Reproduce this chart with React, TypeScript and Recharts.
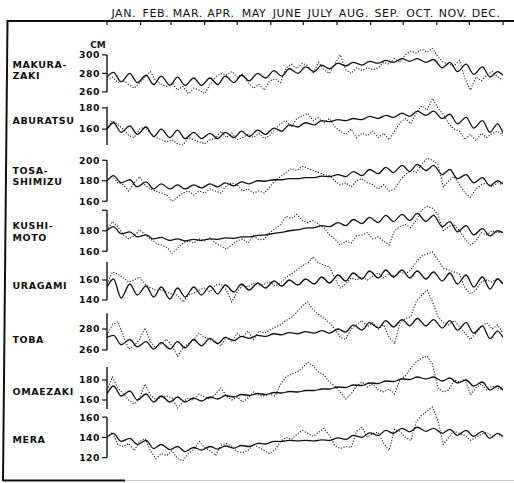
import React from 'react';
import { LineChart, Line, XAxis, YAxis, ReferenceLine } from 'recharts';

const MONTHS = ['JAN.', 'FEB.', 'MAR.', 'APR.', 'MAY', 'JUNE', 'JULY', 'AUG.', 'SEP.', 'OCT.', 'NOV.', 'DEC.'];
const MONTH_START_DAYS = [0, 31, 59, 90, 120, 151, 181, 212, 243, 273, 304, 334, 365];
const MONTH_MID_DAYS = [15.5, 45, 74.5, 105, 135.5, 166, 196.5, 227.5, 258, 288.5, 319, 349.5];

// daily-mean observations, read every 5 days
const OBS_DAYS = [0, 5, 10, 15, 20, 25, 30, 35, 40, 45, 50, 55, 60, 65, 70, 75, 80, 85, 90, 95, 100, 105, 110, 115, 120, 125, 130, 135, 140, 145, 150, 155, 160, 165, 170, 175, 180, 185, 190, 195, 200, 205, 210, 215, 220, 225, 230, 235, 240, 245, 250, 255, 260, 265, 270, 275, 280, 285, 290, 295, 300, 305, 310, 315, 320, 325, 330, 335, 340, 345, 350, 355, 360, 365];
// smooth (tidal) curve, read at its crests and troughs
const TIDE_DAYS = [0, 6, 13, 21, 28, 36, 43, 50, 58, 65, 72, 80, 87, 95, 102, 109, 117, 124, 131, 139, 146, 154, 161, 168, 176, 183, 191, 198, 205, 213, 220, 227, 235, 242, 250, 257, 264, 272, 279, 286, 294, 301, 309, 316, 323, 331, 338, 346, 353, 360, 365];

const MAKURAZAKI_OBS = [273, 276, 270, 272, 268, 264, 270, 276, 282, 272, 268, 266, 270, 262, 266, 258, 264, 262, 258, 268, 276, 280, 278, 282, 276, 279, 270, 264, 268, 262, 272, 274, 270, 286, 290, 285, 291, 288, 280, 292, 284, 280, 290, 300, 284, 280, 286, 283, 286, 284, 286, 292, 290, 296, 292, 300, 304, 302, 306, 303, 307, 298, 292, 290, 288, 294, 274, 262, 276, 272, 278, 282, 276, 273];
const MAKURAZAKI_TIDE = [276, 281, 271, 280, 270, 278, 268, 277, 267, 276, 267, 275, 267, 275, 268, 277, 270, 278, 272, 280, 275, 283, 277, 285, 280, 287, 282, 289, 285, 291, 288, 292, 289, 293, 291, 294, 292, 296, 293, 296, 292, 295, 286, 292, 282, 290, 279, 287, 276, 282, 278];

const ABURATSU_OBS = [160, 168, 164, 160, 154, 152, 160, 162, 156, 152, 150, 148, 150, 146, 145, 152, 150, 148, 146, 150, 151, 158, 152, 156, 150, 152, 155, 152, 156, 151, 154, 160, 165, 168, 162, 170, 172, 175, 168, 171, 166, 170, 162, 158, 155, 160, 152, 156, 154, 158, 152, 156, 150, 158, 166, 170, 165, 175, 182, 178, 189, 180, 174, 165, 160, 158, 150, 155, 149, 156, 152, 156, 158, 154];
const ABURATSU_TIDE = [160, 166, 157, 163, 155, 162, 153, 160, 152, 159, 151, 157, 151, 156, 151, 157, 152, 158, 153, 159, 155, 161, 158, 164, 162, 166, 164, 168, 167, 169, 168, 170, 169, 172, 170, 173, 171, 175, 172, 177, 173, 177, 170, 174, 165, 171, 161, 168, 157, 165, 156];

const TOSA_SHIMIZU_OBS = [180, 184, 178, 176, 170, 178, 184, 176, 172, 170, 168, 166, 160, 164, 168, 170, 166, 170, 168, 172, 170, 168, 175, 178, 176, 170, 172, 168, 170, 168, 174, 180, 184, 188, 192, 190, 194, 192, 190, 188, 186, 185, 180, 176, 178, 174, 180, 182, 178, 176, 172, 176, 170, 172, 180, 186, 190, 188, 196, 202, 200, 196, 174, 180, 184, 176, 168, 164, 172, 176, 178, 174, 178, 176];
const TOSA_SHIMIZU_TIDE = [180, 185, 178, 181, 174, 179, 172, 177, 172, 176, 172, 176, 173, 177, 174, 178, 175, 179, 177, 180, 179.5, 181, 181, 182, 182, 183, 183, 184.5, 184, 186, 184, 189, 185, 191, 187, 193, 188, 195, 189, 196, 190, 195, 186, 191, 182, 186, 178, 183, 175, 180, 177];

const KUSHIMOTO_OBS = [180, 189, 184, 176, 172, 175, 181, 176, 172, 168, 166, 164, 158, 163, 168, 170, 168, 172, 170, 173, 168, 165, 162, 166, 170, 172, 168, 175, 171, 172, 178, 182, 186, 194, 192, 196, 190, 188, 190, 186, 183, 176, 172, 166, 170, 168, 175, 176, 178, 172, 174, 170, 166, 180, 184, 186, 183, 190, 200, 204, 202, 196, 180, 184, 186, 180, 172, 166, 170, 178, 176, 180, 178, 179];
const KUSHIMOTO_TIDE = [180, 184, 177, 179, 174, 176, 172, 173.5, 170.5, 172, 170, 171.5, 170.5, 172, 171.5, 173, 172.5, 174, 174, 175.5, 176, 177.5, 178.5, 180, 181, 182.5, 183, 185, 184, 188, 185, 191, 187, 193, 188, 195, 189, 196, 190, 197, 189, 195, 184, 189, 179, 185, 176, 182, 175, 180, 178];

const URAGAMI_OBS = [156, 168, 166, 162, 158, 160, 163, 156, 152, 150, 150, 148, 146, 145, 138, 145, 147, 150, 152, 148, 155, 156, 150, 138, 148, 155, 153, 157, 155, 156, 158, 154, 157, 163, 166, 170, 174, 177, 183, 177, 175, 173, 162, 152, 156, 162, 160, 163, 160, 164, 167, 162, 166, 164, 168, 166, 170, 178, 184, 186, 188, 180, 172, 170, 168, 166, 152, 146, 150, 158, 160, 158, 162, 157];
const URAGAMI_TIDE = [153, 161, 142, 156, 145, 154, 143, 153, 141, 152, 143, 153, 145, 154, 146, 155, 148, 156, 150, 157, 152, 159, 154, 160, 155, 161, 156, 163, 157, 165, 159, 167, 161, 169, 162, 170, 163, 170, 162, 169, 161, 168, 159, 167, 156, 165, 153, 163, 151, 161, 156];

const TOBA_OBS = [274, 284, 287, 274, 261, 264, 270, 281, 268, 262, 266, 270, 264, 254, 262, 266, 270, 276, 272, 270, 268, 264, 272, 268, 276, 272, 278, 270, 278, 276, 279, 282, 284, 288, 291, 296, 302, 306, 298, 294, 290, 286, 280, 272, 270, 280, 284, 288, 282, 286, 280, 284, 272, 266, 286, 290, 292, 306, 312, 317, 306, 292, 286, 284, 288, 282, 276, 270, 276, 282, 286, 280, 284, 276];
const TOBA_TIDE = [272, 274, 265, 270, 263, 268, 261, 267, 261, 268, 262, 270, 264, 271, 266, 272, 269, 273, 271, 274, 273, 275.5, 274.5, 276.5, 275.5, 277.5, 276, 278.5, 276, 280, 277, 284, 279, 286, 281, 288, 282, 289, 283, 290, 283, 289, 281, 288, 279, 286, 276, 283, 271, 278, 272];

const OMAEZAKI_OBS = [170, 183, 172, 166, 160, 156, 162, 176, 165, 160, 163, 164, 162, 152, 158, 162, 160, 166, 163, 161, 166, 172, 164, 160, 163, 158, 162, 168, 165, 164, 166, 164, 176, 183, 186, 188, 192, 198, 194, 188, 185, 178, 174, 168, 161, 166, 174, 178, 173, 176, 170, 168, 171, 166, 180, 184, 192, 198, 202, 204, 196, 172, 168, 170, 180, 178, 181, 165, 172, 176, 170, 174, 172, 169];
const OMAEZAKI_TIDE = [166, 174, 164, 169, 160, 166, 158, 164, 158, 163, 158, 162, 159, 163, 161, 164.5, 163, 165.5, 164.5, 166.5, 165.5, 167.5, 167, 168.5, 168, 169.5, 169.5, 171, 171, 173, 172.5, 175, 174.5, 177, 176.5, 179, 178.5, 181, 180.5, 183, 181, 183, 179, 182, 177, 180, 174, 178, 170, 174, 170];

const MERA_OBS = [140, 145, 133, 131, 134, 127, 136, 139, 127, 119, 124, 122, 127, 119, 117, 124, 128, 136, 130, 127, 122, 132, 134, 131, 126, 125, 127, 133, 130, 127, 124, 128, 136, 140, 138, 143, 147, 144, 141, 145, 149, 142, 132, 129, 131, 130, 146, 150, 140, 144, 145, 134, 127, 148, 146, 140, 137, 155, 162, 166, 170, 157, 133, 140, 146, 144, 142, 137, 140, 143, 145, 141, 144, 140];
const MERA_TIDE = [140, 144, 136, 139, 133, 137, 129, 133, 128, 131, 126, 130, 127.5, 131, 128.5, 131.5, 129.5, 132, 131, 134, 133.5, 136, 136, 137, 136.5, 137, 136.5, 137.5, 137, 139.5, 138, 142, 140, 144.5, 142, 147, 144, 149, 145.5, 150, 146, 149, 144, 148, 142, 147, 141, 146, 139, 144, 141];

const STATION_NAMES = [['MAKURA-', 'ZAKI'], ['ABURATSU'], ['TOSA-', 'SHIMIZU'], ['KUSHI-', 'MOTO'], ['URAGAMI'], ['TOBA'], ['OMAEZAKI'], ['MERA']];
const STATION_OBS = [MAKURAZAKI_OBS, ABURATSU_OBS, TOSA_SHIMIZU_OBS, KUSHIMOTO_OBS, URAGAMI_OBS, TOBA_OBS, OMAEZAKI_OBS, MERA_OBS];
const STATION_TIDE = [MAKURAZAKI_TIDE, ABURATSU_TIDE, TOSA_SHIMIZU_TIDE, KUSHIMOTO_TIDE, URAGAMI_TIDE, TOBA_TIDE, OMAEZAKI_TIDE, MERA_TIDE];
const STATION_TICKS = [[260, 280, 300], [160, 180], [160, 180, 200], [160, 180, 200], [140, 160], [260, 280], [160, 180], [120, 140, 160]];
const STATION_TICK_LABELS = [[260, 280, 300], [160, 180], [160, 180, 200], [160, 180], [140, 160], [260, 280], [160, 180], [120, 140, 160]];
const STATION_AXIS_SPAN = [[260, 300], [145, 181], [160, 200], [160, 200], [140, 178], [260, 295], [151, 193], [120, 160]];
const STATION_DOMAIN = [[250, 315], [140, 195], [155, 210], [155, 210], [135, 192], [250, 320], [148, 206], [114, 172]];

// layout: pixel row of an anchor value and pixels per cm, plus name baselines
const PANEL_LAYOUT = [
  { anchor: 300, anchorY: 55, ppc: 0.925, nameY: [67.5, 78.5] },
  { anchor: 180, anchorY: 107.5, ppc: 1.06, nameY: [123.5] },
  { anchor: 200, anchorY: 160, ppc: 1.025, nameY: [173.5, 185] },
  { anchor: 180, anchorY: 231, ppc: 1.025, nameY: [228.5, 240.5] },
  { anchor: 160, anchorY: 280, ppc: 1.0, nameY: [288.5] },
  { anchor: 280, anchorY: 329, ppc: 1.05, nameY: [343] },
  { anchor: 180, anchorY: 379.5, ppc: 1.0, nameY: [394.5] },
  { anchor: 140, anchorY: 437, ppc: 1.0125, nameY: [442.5] },
];

const FONT = '"DejaVu Sans", Verdana, sans-serif';
const INK = '#111';
const W = 514;
const H = 483;
const AXIS_X_WIDTH = 107;
const RIGHT_GAP = 11;

const toSeries = (days: number[], vals: number[]) => days.map((day, i) => ({ day, v: vals[i] }));
const MONTH_DATA = MONTH_MID_DAYS.map((day, i) => ({ day, label: MONTHS[i] }));

const makeTick = (labelled: number[]) => (props: any) => {
  const { x, y, payload } = props;
  if (!labelled.includes(payload.value)) return <g />;
  return (
    <text x={x} y={y} dy={3.4} textAnchor="end" fontSize={9.3} fontWeight="bold" fontFamily={FONT} fill={INK} letterSpacing={0.5}>
      {payload.value}
    </text>
  );
};

function StationPanel({ idx }: { idx: number }) {
  const lay = PANEL_LAYOUT[idx];
  const [lo, hi] = STATION_DOMAIN[idx];
  const top = lay.anchorY - (hi - lay.anchor) * lay.ppc;
  const height = (hi - lo) * lay.ppc;
  const obs = toSeries(OBS_DAYS, STATION_OBS[idx]);
  const tide = toSeries(TIDE_DAYS, STATION_TIDE[idx]);
  const span = STATION_AXIS_SPAN[idx];
  return (
    <div style={{ position: 'absolute', left: 0, top, width: W, height }}>
      <LineChart width={W} height={height} margin={{ top: 0, right: RIGHT_GAP, bottom: 0, left: 0 }} style={{ overflow: 'visible' }}>
        <XAxis type="number" dataKey="day" domain={[0, 365]} hide allowDataOverflow />
        <YAxis
          type="number"
          domain={[lo, hi]}
          ticks={STATION_TICKS[idx]}
          interval={0}
          width={AXIS_X_WIDTH}
          axisLine={false}
          tickLine={{ stroke: INK, strokeWidth: 1.2 }}
          tickSize={5}
          tickMargin={2}
          tick={makeTick(STATION_TICK_LABELS[idx])}
          allowDataOverflow
        />
        <ReferenceLine segment={[{ x: 0, y: span[0] }, { x: 0, y: span[1] }]} stroke={INK} strokeWidth={1.4} />
        <Line data={obs} dataKey="v" type="linear" stroke="#222" strokeWidth={1.1} strokeDasharray="1.2 1.6" dot={false} isAnimationActive={false} />
        <Line data={tide} dataKey="v" type="monotone" stroke={INK} strokeWidth={1.3} dot={false} isAnimationActive={false} />
      </LineChart>
    </div>
  );
}

export default function App() {
  return (
    <div style={{ position: 'absolute', left: 0, top: 0, width: W, height: H, background: '#fff', overflow: 'hidden' }}>
      <div style={{ position: 'absolute', left: 0, top: 0 }}>
        <LineChart width={W} height={25} data={MONTH_DATA} margin={{ top: 0, right: RIGHT_GAP, bottom: 0, left: AXIS_X_WIDTH }}>
          <XAxis
            xAxisId="m"
            dataKey="day"
            orientation="top"
            type="number"
            domain={[0, 365]}
            allowDataOverflow
            ticks={MONTH_MID_DAYS}
            interval={0}
            tickFormatter={(_v: number, i: number) => MONTHS[i]}
            height={21}
            axisLine={false}
            tickLine={false}
            tickSize={0}
            tickMargin={4}
            tick={{ fontSize: 11, fill: INK, fontFamily: FONT, letterSpacing: 0.6 }}
          />
          <YAxis hide domain={[0, 1]} allowDataOverflow />
          {MONTH_START_DAYS.map((d) => (
            <ReferenceLine key={d} xAxisId="m" x={d} stroke={INK} strokeWidth={1.2} />
          ))}
        </LineChart>
      </div>
      {STATION_NAMES.map((_, i) => (
        <StationPanel key={i} idx={i} />
      ))}
      <svg width={W} height={H} style={{ position: 'absolute', left: 0, top: 0, pointerEvents: 'none' }}>
        <line x1={7} y1={21} x2={W} y2={21} stroke={INK} strokeWidth={2.2} />
        <line x1={7.5} y1={20} x2={3} y2={481} stroke={INK} strokeWidth={2} />
        <line x1={3} y1={480.5} x2={125} y2={480.5} stroke={INK} strokeWidth={2} />
        <line x1={125} y1={480.5} x2={W} y2={480.5} stroke="#ccc" strokeWidth={1} />
        <text x={98} y={48.3} textAnchor="middle" fontSize={9} fontWeight="bold" fontFamily={FONT} fill={INK}>CM</text>
        {STATION_NAMES.map((lines, i) =>
          lines.map((t, j) => (
            <text key={`${i}-${j}`} x={12.5} y={PANEL_LAYOUT[i].nameY[j]} fontSize={9.5} fontWeight="bold" fontFamily={FONT} fill={INK} letterSpacing={0.6}>
              {t}
            </text>
          ))
        )}
      </svg>
    </div>
  );
}
